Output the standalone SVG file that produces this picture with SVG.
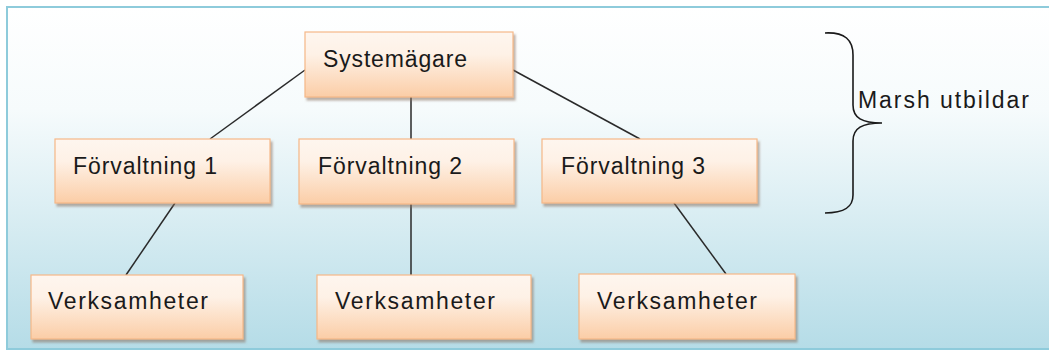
<svg xmlns="http://www.w3.org/2000/svg" width="1049" height="351" viewBox="0 0 1049 351">
  <defs>
    <linearGradient id="bg" x1="0" y1="0" x2="0" y2="1">
      <stop offset="0" stop-color="#ffffff"/>
      <stop offset="0.3" stop-color="#f6fbfc"/>
      <stop offset="1" stop-color="#b5dce7"/>
    </linearGradient>
    <linearGradient id="box" x1="0" y1="0" x2="0" y2="1">
      <stop offset="0" stop-color="#fef6ef"/>
      <stop offset="0.35" stop-color="#fef1e6"/>
      <stop offset="1" stop-color="#fbcda6"/>
    </linearGradient>
    <filter id="shadow" x="-10%" y="-20%" width="130%" height="150%">
      <feGaussianBlur in="SourceAlpha" stdDeviation="1.2"/>
      <feOffset dx="2" dy="3" result="b"/>
      <feFlood flood-color="#8a7060" flood-opacity="0.55"/>
      <feComposite in2="b" operator="in"/>
      <feMerge>
        <feMergeNode/>
        <feMergeNode in="SourceGraphic"/>
      </feMerge>
    </filter>
  </defs>
  <style>
    .node rect { fill: url(#box); stroke: #f6b888; stroke-width: 1.2; filter: url(#shadow); }
    .node text, .label { font-family: "Liberation Sans", Arial, sans-serif; font-size: 23px; fill: #1a1a1a; }
    #connectors line { stroke: #2a2a2a; stroke-width: 1.5; }
    .brace { fill: none; stroke: #1a1a1a; stroke-width: 1.6; }
  </style>

  <!-- background panel -->
  <rect x="7" y="7" width="1045" height="342" fill="url(#bg)" stroke="#8ecbdb" stroke-width="2"/>

  <!-- connectors -->
  <g id="connectors">
    <line x1="305" y1="70" x2="210" y2="139"/>
    <line x1="411" y1="97" x2="411" y2="139"/>
    <line x1="513" y1="70" x2="640" y2="139"/>
    <line x1="175" y1="203" x2="126" y2="275"/>
    <line x1="411" y1="204" x2="411" y2="275"/>
    <line x1="674" y1="203" x2="726" y2="274"/>
  </g>

  <g id="systemagare" class="node">
    <rect x="305" y="32" width="208" height="65"/>
    <text x="323" y="67" textLength="144" lengthAdjust="spacing">Systemägare</text>
  </g>

  <g id="forvaltning1" class="node">
    <rect x="55" y="139" width="215" height="64"/>
    <text x="73" y="174" textLength="144" lengthAdjust="spacing">Förvaltning 1</text>
  </g>
  <g id="forvaltning2" class="node">
    <rect x="299" y="139" width="215" height="65"/>
    <text x="318" y="174" textLength="144" lengthAdjust="spacing">Förvaltning 2</text>
  </g>
  <g id="forvaltning3" class="node">
    <rect x="542" y="139" width="215" height="64"/>
    <text x="561" y="174" textLength="144" lengthAdjust="spacing">Förvaltning 3</text>
  </g>

  <g id="verksamheter1" class="node">
    <rect x="31" y="275" width="212" height="64"/>
    <text x="48" y="309" textLength="160" lengthAdjust="spacing">Verksamheter</text>
  </g>
  <g id="verksamheter2" class="node">
    <rect x="317" y="275" width="214" height="64"/>
    <text x="335" y="309" textLength="160" lengthAdjust="spacing">Verksamheter</text>
  </g>
  <g id="verksamheter3" class="node">
    <rect x="579" y="274" width="216" height="65"/>
    <text x="597" y="309" textLength="160" lengthAdjust="spacing">Verksamheter</text>
  </g>

  <!-- curly brace with its caption -->
  <g id="brace">
    <path class="brace" d="M825,33 C845,32 853,40 853,55 L853,105 C853,118 862,123 882,123 C862,123 853,128 853,141 L853,195 C853,207 845,213 825,213"/>
    <text class="label" x="858" y="108" textLength="171" lengthAdjust="spacing">Marsh utbildar</text>
  </g>
</svg>
